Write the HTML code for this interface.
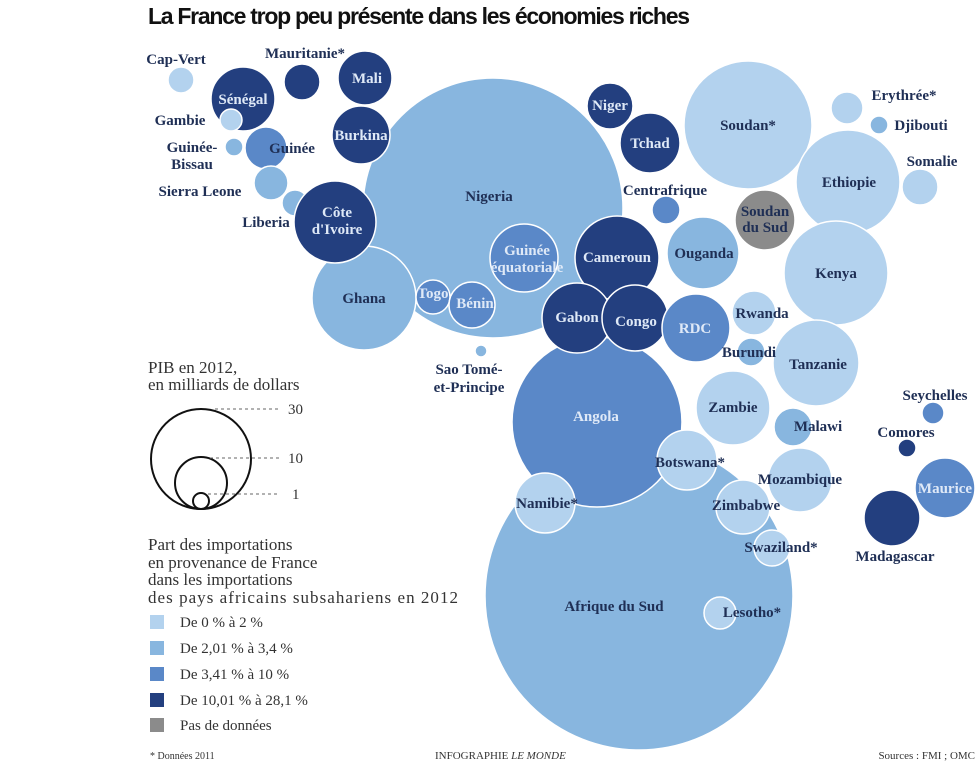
<!DOCTYPE html>
<html><head><meta charset="utf-8"><style>
body{margin:0;background:#fff;}
svg{display:block;}
.t{font-family:"Liberation Serif",serif;font-weight:bold;font-size:15px;fill:#1f2f55;}
.w{fill:#dfe9f7;}
.lg{font-family:"Liberation Serif",serif;font-size:17px;fill:#333;}
.sm{font-family:"Liberation Serif",serif;font-size:15px;fill:#333;}
</style></head><body>
<svg width="976" height="764" viewBox="0 0 976 764" xmlns="http://www.w3.org/2000/svg">
<text x="148" y="24" font-family="Liberation Sans Narrow, Liberation Sans, sans-serif" font-weight="bold" font-size="23" fill="#111" textLength="542">La France trop peu présente dans les économies riches</text>
<g stroke="#fff" stroke-width="1.5">
<circle cx="639" cy="596" r="154" fill="#88b6df"/>
<circle cx="493" cy="208" r="130" fill="#88b6df"/>
<circle cx="364" cy="298" r="52" fill="#88b6df"/>
<circle cx="597" cy="422" r="85" fill="#5a88c8"/>
<circle cx="181" cy="80" r="13" fill="#b3d2ee"/>
<circle cx="302" cy="82" r="18" fill="#233f7f"/>
<circle cx="365" cy="78" r="27" fill="#233f7f"/>
<circle cx="243" cy="99" r="32" fill="#233f7f"/>
<circle cx="231" cy="120" r="11" fill="#b3d2ee"/>
<circle cx="234" cy="147" r="9" fill="#88b6df"/>
<circle cx="266" cy="148" r="21" fill="#5a88c8"/>
<circle cx="271" cy="183" r="17" fill="#88b6df"/>
<circle cx="295" cy="203" r="13" fill="#88b6df"/>
<circle cx="361" cy="135" r="29" fill="#233f7f"/>
<circle cx="335" cy="222" r="41" fill="#233f7f"/>
<circle cx="524" cy="258" r="34" fill="#5a88c8"/>
<circle cx="433" cy="297" r="17" fill="#5a88c8"/>
<circle cx="472" cy="305" r="23" fill="#5a88c8"/>
<circle cx="481" cy="351" r="6" fill="#88b6df"/>
<circle cx="617" cy="258" r="42" fill="#233f7f"/>
<circle cx="577" cy="318" r="35" fill="#233f7f"/>
<circle cx="635" cy="318" r="33" fill="#233f7f"/>
<circle cx="610" cy="106" r="23" fill="#233f7f"/>
<circle cx="650" cy="143" r="30" fill="#233f7f"/>
<circle cx="748" cy="125" r="64" fill="#b3d2ee"/>
<circle cx="666" cy="210" r="14" fill="#5a88c8"/>
<circle cx="703" cy="253" r="36" fill="#88b6df"/>
<circle cx="765" cy="220" r="30" fill="#8b8b8b"/>
<circle cx="696" cy="328" r="34" fill="#5a88c8"/>
<circle cx="754" cy="313" r="22" fill="#b3d2ee"/>
<circle cx="751" cy="352" r="14" fill="#88b6df"/>
<circle cx="848" cy="182" r="52" fill="#b3d2ee"/>
<circle cx="847" cy="108" r="16" fill="#b3d2ee"/>
<circle cx="879" cy="125" r="9" fill="#88b6df"/>
<circle cx="920" cy="187" r="18" fill="#b3d2ee"/>
<circle cx="836" cy="273" r="52" fill="#b3d2ee"/>
<circle cx="816" cy="363" r="43" fill="#b3d2ee"/>
<circle cx="545" cy="503" r="30" fill="#b3d2ee"/>
<circle cx="687" cy="460" r="30" fill="#b3d2ee"/>
<circle cx="733" cy="408" r="37" fill="#b3d2ee"/>
<circle cx="793" cy="427" r="19" fill="#88b6df"/>
<circle cx="800" cy="480" r="32" fill="#b3d2ee"/>
<circle cx="743" cy="507" r="27" fill="#b3d2ee"/>
<circle cx="772" cy="548" r="18" fill="#b3d2ee"/>
<circle cx="720" cy="613" r="16" fill="#b3d2ee"/>
<circle cx="933" cy="413" r="11" fill="#5a88c8"/>
<circle cx="907" cy="448" r="9" fill="#233f7f"/>
<circle cx="945" cy="488" r="30" fill="#5a88c8"/>
<circle cx="892" cy="518" r="28" fill="#233f7f"/>
</g>
<g class="t" text-anchor="middle">
<text x="176" y="64">Cap-Vert</text>
<text x="305" y="58">Mauritanie*</text>
<text x="367" y="83" class="t w">Mali</text>
<text x="243" y="104" class="t w">Sénégal</text>
<text x="180" y="125">Gambie</text>
<text x="192" y="152">Guinée-</text>
<text x="192" y="169">Bissau</text>
<text x="292" y="153">Guinée</text>
<text x="200" y="196">Sierra Leone</text>
<text x="266" y="227">Liberia</text>
<text x="361" y="140" class="t w">Burkina</text>
<text x="337" y="217" class="t w">Côte</text>
<text x="337" y="234" class="t w">d'Ivoire</text>
<text x="489" y="201">Nigeria</text>
<text x="364" y="303">Ghana</text>
<text x="527" y="255" class="t w">Guinée</text>
<text x="527" y="272" class="t w">équatoriale</text>
<text x="433" y="298" class="t w">Togo</text>
<text x="475" y="308" class="t w">Bénin</text>
<text x="469" y="374">Sao Tomé-</text>
<text x="469" y="392">et-Principe</text>
<text x="617" y="262" class="t w">Cameroun</text>
<text x="577" y="322" class="t w">Gabon</text>
<text x="636" y="326" class="t w">Congo</text>
<text x="610" y="110" class="t w">Niger</text>
<text x="650" y="148" class="t w">Tchad</text>
<text x="748" y="130">Soudan*</text>
<text x="665" y="195">Centrafrique</text>
<text x="704" y="258">Ouganda</text>
<text x="765" y="216">Soudan</text>
<text x="765" y="232">du Sud</text>
<text x="695" y="333" class="t w">RDC</text>
<text x="762" y="318">Rwanda</text>
<text x="749" y="357">Burundi</text>
<text x="849" y="187">Ethiopie</text>
<text x="904" y="100">Erythrée*</text>
<text x="921" y="130">Djibouti</text>
<text x="932" y="166">Somalie</text>
<text x="836" y="278">Kenya</text>
<text x="818" y="369">Tanzanie</text>
<text x="596" y="421" class="t w">Angola</text>
<text x="547" y="508">Namibie*</text>
<text x="690" y="467">Botswana*</text>
<text x="733" y="412">Zambie</text>
<text x="818" y="431">Malawi</text>
<text x="800" y="484">Mozambique</text>
<text x="746" y="510">Zimbabwe</text>
<text x="781" y="552">Swaziland*</text>
<text x="614" y="611">Afrique du Sud</text>
<text x="752" y="617">Lesotho*</text>
<text x="935" y="400">Seychelles</text>
<text x="906" y="437">Comores</text>
<text x="945" y="493" class="t w">Maurice</text>
<text x="895" y="561">Madagascar</text>
</g>
<text x="148" y="373" class="lg">PIB en 2012,</text>
<text x="148" y="390" class="lg">en milliards de dollars</text>
<g fill="none" stroke="#111" stroke-width="2">
<circle cx="201" cy="459" r="50"/>
<circle cx="201" cy="483" r="26"/>
<circle cx="201" cy="501" r="8"/>
</g>
<g stroke="#666" stroke-dasharray="3,3" stroke-width="1">
<line x1="215" y1="409" x2="280" y2="409"/>
<line x1="210" y1="458" x2="280" y2="458"/>
<line x1="208" y1="494" x2="280" y2="494"/>
</g>
<text x="288" y="414" class="sm">30</text>
<text x="288" y="463" class="sm">10</text>
<text x="292" y="499" class="sm">1</text>
<text x="148" y="550" class="lg">Part des importations</text>
<text x="148" y="568" class="lg">en provenance de France</text>
<text x="148" y="585" class="lg">dans les importations</text>
<text x="148" y="603" class="lg" textLength="310">des pays africains subsahariens en 2012</text>
<rect x="150" y="615" width="14" height="14" fill="#b3d2ee"/>
<rect x="150" y="641" width="14" height="14" fill="#88b6df"/>
<rect x="150" y="667" width="14" height="14" fill="#5a88c8"/>
<rect x="150" y="693" width="14" height="14" fill="#233f7f"/>
<rect x="150" y="718" width="14" height="14" fill="#8b8b8b"/>
<text x="180" y="627" class="sm">De 0 % à 2 %</text>
<text x="180" y="653" class="sm">De 2,01 % à 3,4 %</text>
<text x="180" y="679" class="sm">De 3,41 % à 10 %</text>
<text x="180" y="705" class="sm">De 10,01 % à 28,1 %</text>
<text x="180" y="730" class="sm">Pas de données</text>
<text x="150" y="759" font-family="Liberation Serif,serif" font-size="10" fill="#333">* Données 2011</text>
<text x="435" y="759" font-family="Liberation Serif,serif" font-size="11" fill="#333">INFOGRAPHIE <tspan font-style="italic">LE MONDE</tspan></text>
<text x="975" y="759" text-anchor="end" font-family="Liberation Serif,serif" font-size="11" fill="#333">Sources : FMI ; OMC</text>
</svg>
</body></html>
